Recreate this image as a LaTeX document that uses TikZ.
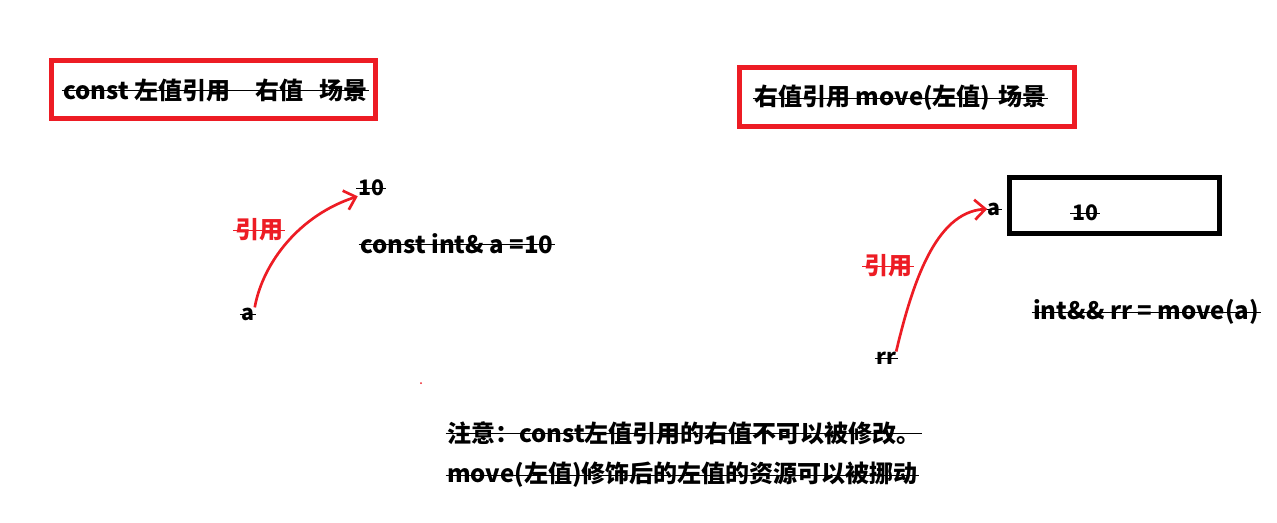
\documentclass[tikz,border=0pt]{standalone}
\usepackage{xcolor}
\usepackage{fontspec}
\setmainfont{Noto Sans CJK SC}
\usetikzlibrary{arrows.meta,positioning}
\definecolor{paintred}{HTML}{ED1C24}
\tikzset{
  struck/.style={inner sep=0pt,
    append after command={(\tikzlastnode.west) edge[draw=#1,line width=0.65pt,shorten <=-1pt,shorten >=-1pt] (\tikzlastnode.east)}},
  struck/.default=black,
  txt/.style={font=\fontsize{18}{20}\selectfont\bfseries,struck},
  small txt/.style={font=\fontsize{16}{18}\selectfont\bfseries,struck},
  red txt/.style={font=\fontsize{18}{20}\selectfont\bfseries,text=paintred,struck=paintred},
  title box/.style={draw=paintred,line width=3.75pt},
  value box/.style={draw,line width=3.75pt,minimum width=157.5pt,minimum height=42pt,inner sep=0pt},
  ref arrow/.style={-{Straight Barb[length=8pt,width=15pt]},paintred,line width=2pt}
}
\begin{document}
\begin{tikzpicture}[x=0.75pt,y=-0.75pt]
  \useasboundingbox (0,0) rectangle (1277,522);
  \fill[white] (0,0) rectangle (1277,522);

  % Titles
  \draw[title box] (51.5,60.5) rectangle (375,118.5);
  \node[txt] (title1) at (215.5,90) {const 左值引用\hspace{19pt}右值\hspace{12pt}场景};
  \draw[title box] (739,67) rectangle (1074,126);
  \node[txt] (title2) at (900.5,98) {右值引用 move(左值)\hspace{6pt}场景};

  % const lvalue reference to an rvalue
  \node[small txt] (ten1) at (371,188) {10};
  \node[txt,anchor=west] (decl1) at (360,244) {const int\& a =10};
  \node[small txt] (a1) at (248,314) {a};
  \node[red txt] (ref1) at (259,230) {引用};
  \draw[ref arrow] (a1.north east) .. controls (263,262) and (300,215) .. (ten1.south west);

  % rvalue reference to move(lvalue)
  \node[value box] (cell) at (1114.5,205.5) {};
  \node[small txt] (ten2) at (1085,213) {10};
  \node[small txt] (a2) at (994,209) {a};
  \node[red txt] (ref2) at (888,266) {引用};
  \node[small txt] (rr) at (886,358) {rr};
  \node[txt,anchor=west] (decl2) at (1033,312) {int\&\& rr = move(a)};
  \draw[ref arrow] (rr.north east) .. controls (912,285) and (935,212) .. (a2.west);

  \fill[paintred] (421,383) circle (1);

  % Notes
  \node[txt,anchor=west] (note1) at (447,433) {注意：const左值引用的右值不可以被修改。};
  \node[txt,anchor=west] (note2) at (447,475) {move(左值)修饰后的左值的资源可以被挪动};
\end{tikzpicture}
\end{document}
